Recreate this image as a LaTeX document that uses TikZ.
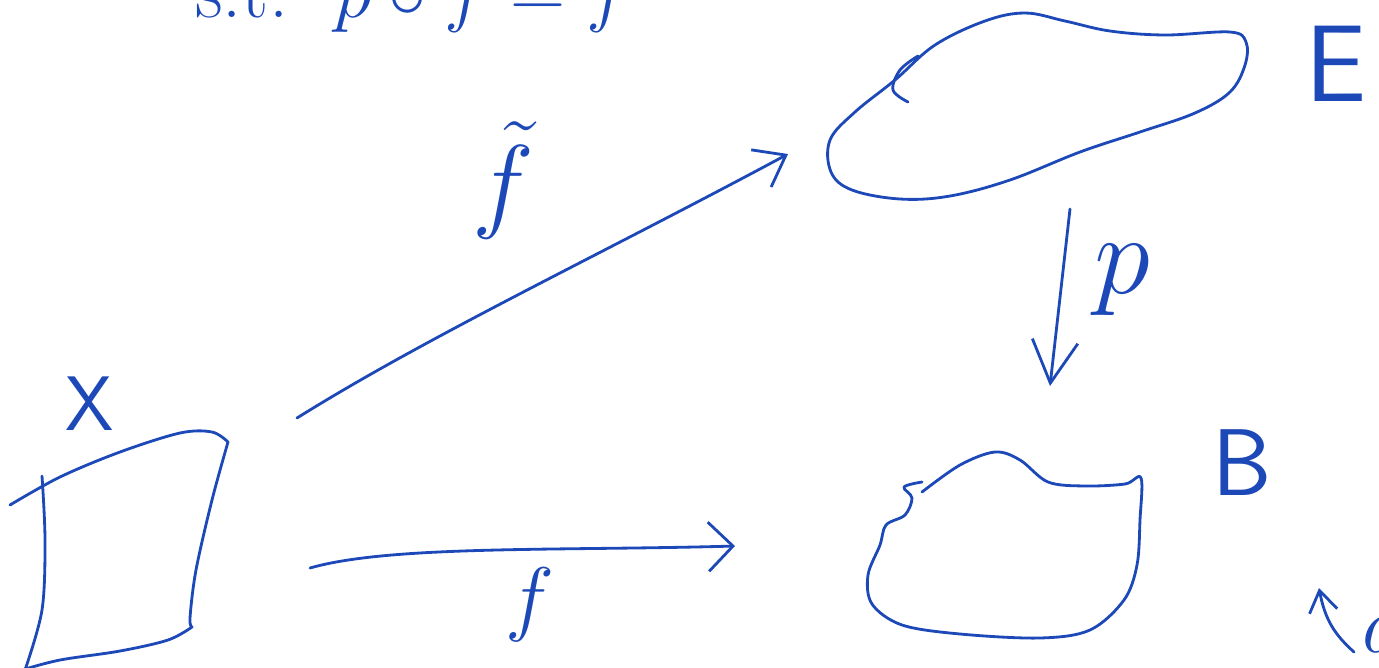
\documentclass[tikz,border=0pt]{standalone}
\usepackage{amsmath}
\usepackage{graphicx}
\usetikzlibrary{arrows.meta,positioning}
\definecolor{ink}{RGB}{28,72,184}
\tikzset{
  pen/.style={draw=ink, line width=1.6pt, line cap=round, line join=round},
  hand/.style={text=ink, inner sep=0pt, font=\Huge},
}

\begin{document}
\begin{tikzpicture}[x=0.02cm, y=-0.02cm]
  \useasboundingbox (0,0) rectangle (1379,667);
  \clip (0,0) rectangle (1379,667);

  % the condition at the top, cut by the page edge
  \node[hand, anchor=base west] (cond) at (195,17)
    {\scalebox{1.75}{s.t.\ \ $p\circ\tilde f = f$}};

  % the space X
  \draw[pen] plot[smooth, tension=0.55] coordinates {(10,505) (60,477) (120,452) (180,433) (212,432) (228,442)}
    -- plot[smooth, tension=0.55] coordinates {(228,442) (212,500) (196,570) (190,618) (192,627)}
    -- plot[smooth, tension=0.55] coordinates {(192,627) (168,640) (120,651) (60,660) (22,670)};
  \draw[pen] plot[smooth, tension=0.55] coordinates {(42,476) (45,540) (42,610) (25,670)};
  \node[hand, font=\fontsize{44}{44}\sffamily] (X) at (90,404) {X};

  % the space E
  \draw[pen] plot[smooth cycle, tension=0.6] coordinates {(830,140) (855,112) (895,80) (935,45) (985,21)
    (1025,13) (1065,21) (1110,31) (1165,35) (1230,32) (1246,42) (1245,65) (1230,92) (1195,113)
    (1140,132) (1080,152) (1010,180) (950,196) (900,199) (852,190) (831,172)};
  \draw[pen] plot[smooth, tension=0.6] coordinates {(918,56) (900,70) (893,90) (908,102)};
  \node[hand, font=\fontsize{62}{62}\sffamily] (E) at (1336,64) {E};

  % the space B
  \draw[pen] plot[smooth, tension=0.55] coordinates {(922,492) (960,465) (995,452) (1020,460) (1048,482)
    (1085,486) (1125,484) (1141,478) (1140,520) (1137,565) (1124,600) (1090,630) (1040,638)
    (960,634) (902,625) (872,604) (868,575) (880,545) (886,525) (905,515) (912,498) (904,487) (922,482)};
  \node[hand, font=\fontsize{54}{54}\sffamily] (B) at (1242,463) {B};

  % the maps
  \coordinate (ftail) at (297,418);
  \coordinate (fhead) at (788,154);
  \draw[pen, -{Straight Barb[length=16pt,width=24pt,line width=1.6pt]}]
    (ftail) .. controls (430,335) and (600,255) .. (fhead);
  \node[hand] (ftilde) at (503,180) {\scalebox{2.4}{$\tilde f$}};

  \coordinate (gtail) at (310,568);
  \coordinate (ghead) at (735,546);
  \draw[pen, -{Straight Barb[length=14pt,width=28pt,line width=1.6pt]}]
    (gtail) .. controls (390,545) and (560,551) .. (ghead);
  \node[hand] (f) at (530,605) {\scalebox{1.9}{$f$}};

  \coordinate (ptail) at (1070,209);
  \coordinate (phead) at (1050,386);
  \draw[pen, -{Straight Barb[length=24pt,width=26pt,line width=1.6pt]}] (ptail) -- (phead);
  \node[hand] (p) at (1122,280) {\scalebox{2.6}{$p$}};

  % the mark in the lower right corner, cut by the page edge
  \coordinate (mtail) at (1354,652);
  \coordinate (mhead) at (1319,588);
  \draw[pen, -{Straight Barb[length=12pt,width=16pt,line width=1.6pt]}]
    (mtail) .. controls (1335,635) and (1325,620) .. (mhead);
  \node[hand, anchor=base west] (a) at (1362,652) {\scalebox{1.85}{$a$}};
\end{tikzpicture}
\end{document}
